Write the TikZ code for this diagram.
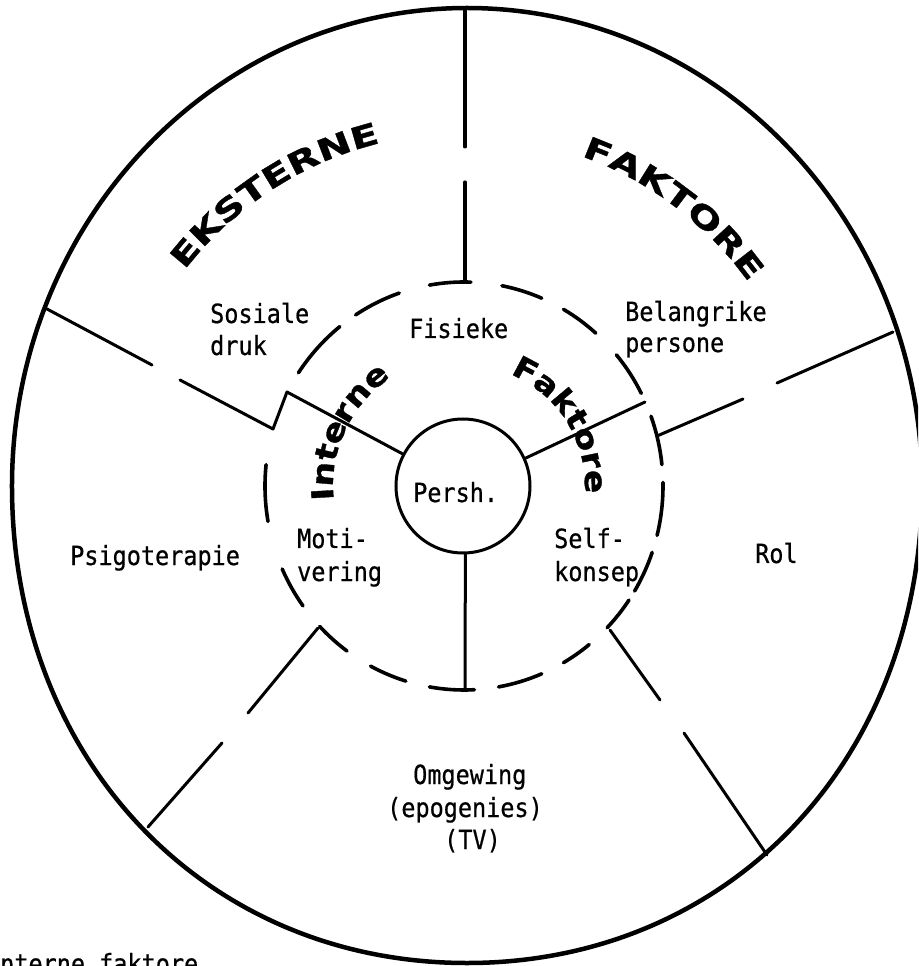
\documentclass[tikz,border=0pt]{standalone}
\usepackage{fontspec}
\usetikzlibrary{decorations.text}
\newfontfamily\monof[FakeStretch=0.89,FakeBold=0.6]{DejaVu Sans Mono}
\newfontfamily\heavyA[FakeStretch=1.36,FakeBold=1.2]{DejaVu Sans}
\newfontfamily\heavyB[FakeStretch=1.15,FakeBold=1.2]{DejaVu Sans}
\newcommand\outerlbl{\heavyA\bfseries\fontsize{30}{32}\selectfont}
\newcommand\innerlbl{\heavyB\bfseries\fontsize{30}{32}\selectfont}
\newcommand\lblfont{\monof\fontsize{26.4}{30}\selectfont}
\begin{document}
\begin{tikzpicture}[x=1pt,y=1pt,
  rim/.style={line width=4.5pt},
  spoke/.style={line width=3pt, line cap=round, line join=round},
  dsh/.style={line width=3.6pt, line cap=round},
  lbl/.style={font=\lblfont, inner sep=0pt, anchor=base west}]
\useasboundingbox (-464,-480) rectangle (454,486);
\clip (-464,-480) rectangle (454,486);
% outer rim
\draw[rim] (-452,0) arc[start angle=180, end angle=0, x radius=455pt, y radius=478pt]
  .. controls (458,-274.3) and (264.6,-477) .. (3,-477)
  .. controls (-258.6,-477) and (-452,-274.3) .. (-452,0) -- cycle;
% dashed inner ring
\foreach \a/\b in {100/88, 79/67, 60/48.5, 40/27, 20/6, 1/-14, -19/-31, -34/-44,
  -51/-60, -67/-80, -100/-87, -118/-107, -136.5/-126, -156/-144, 174/190,
  128.6/146.3, 109/123}
  \draw[dsh] (\a:199pt and 204pt) arc[start angle=\a, end angle=\b, x radius=199pt, y radius=204pt];
% centre circle
\node[circle, draw, line width=3pt, minimum size=134pt, inner sep=0pt] (persh) at (-1,0) {};
% spokes
\coordinate (t1) at (1,478); \coordinate (t2) at (1,339);
\coordinate (t3) at (1,304); \coordinate (t4) at (1,205);
\draw[spoke] (t1) -- (t2);
\draw[spoke] (t3) -- (t4);
\coordinate (b1) at (1,-204);
\draw[spoke] (persh.-88) -- (b1);
\coordinate (ul1) at (-417,177); \coordinate (ul2) at (-312,121);
\coordinate (ul3) at (-284,106); \coordinate (ul4) at (-191,57); \coordinate (ul5) at (-177,94);
\draw[spoke] (ul1) -- (ul2);
\draw[spoke] (ul3) -- (ul4) -- (ul5) -- (persh.152);
\coordinate (ur1) at (429,154); \coordinate (ur2) at (313,103);
\coordinate (ur3) at (279,87); \coordinate (ur4) at (193,50); \coordinate (ur5) at (181,84);
\draw[spoke] (ur1) -- (ur2);
\draw[spoke] (ur3) -- (ur4);
\draw[spoke] (ur5) -- (persh.24);
\coordinate (ll1) at (-316,-341); \coordinate (ll2) at (-242,-257);
\coordinate (ll3) at (-216,-227); \coordinate (ll4) at (-146,-142);
\draw[spoke] (ll1) -- (ll2);
\draw[spoke] (ll3) -- (ll4);
\coordinate (lr1) at (303,-369); \coordinate (lr2) at (220,-247);
\coordinate (lr3) at (196,-214); \coordinate (lr4) at (146,-144);
\draw[spoke] (lr1) -- (lr2);
\draw[spoke] (lr3) -- (lr4);
% labels
\node[lbl] (sos1) at (-254,163) {Sosiale};
\node[lbl] (sos2) at (-254,131) {druk};
\node[lbl] (fis) at (-55,148) {Fisieke};
\node[lbl] (bel1) at (161,165) {Belangrike};
\node[lbl] (bel2) at (161,134) {persone};
\node[lbl] (per) at (-51,-16) {Persh.};
\node[lbl] (mot1) at (-167,-62) {Moti-};
\node[lbl] (mot2) at (-167,-95) {vering};
\node[lbl] (self1) at (90,-62) {Self-};
\node[lbl] (self2) at (90,-95) {konsep};
\node[lbl] (psi) at (-394,-79) {Psigoterapie};
\node[lbl] (rol) at (291,-77) {Rol};
\node[lbl] (omg1) at (-51,-298) {Omgewing};
\node[lbl] (omg2) at (-77,-331) {(epogenies)};
\node[lbl] (omg3) at (-20,-363) {(TV)};
\node[lbl] (foot) at (-464,-487) {nterne faktore};
% curved headings
\path[decorate, decoration={text along path, text align=center, text={|\outerlbl|EKSTERNE}}]
  (163:353pt) arc[start angle=163, end angle=83, radius=353pt];
\path[decorate, decoration={text along path, text align=center, text={|\outerlbl|FAKTORE}}]
  (93:350pt) arc[start angle=93, end angle=13, radius=350pt];
\path[decorate, decoration={text along path, text align=center, text={|\innerlbl|Interne}}]
  (205:131pt) arc[start angle=205, end angle=105, radius=131pt];
\path[decorate, decoration={text along path, text align=center, text={|\innerlbl|Faktore}}]
  (82:121pt) arc[start angle=82, end angle=-18, radius=121pt];
\end{tikzpicture}
\end{document}
